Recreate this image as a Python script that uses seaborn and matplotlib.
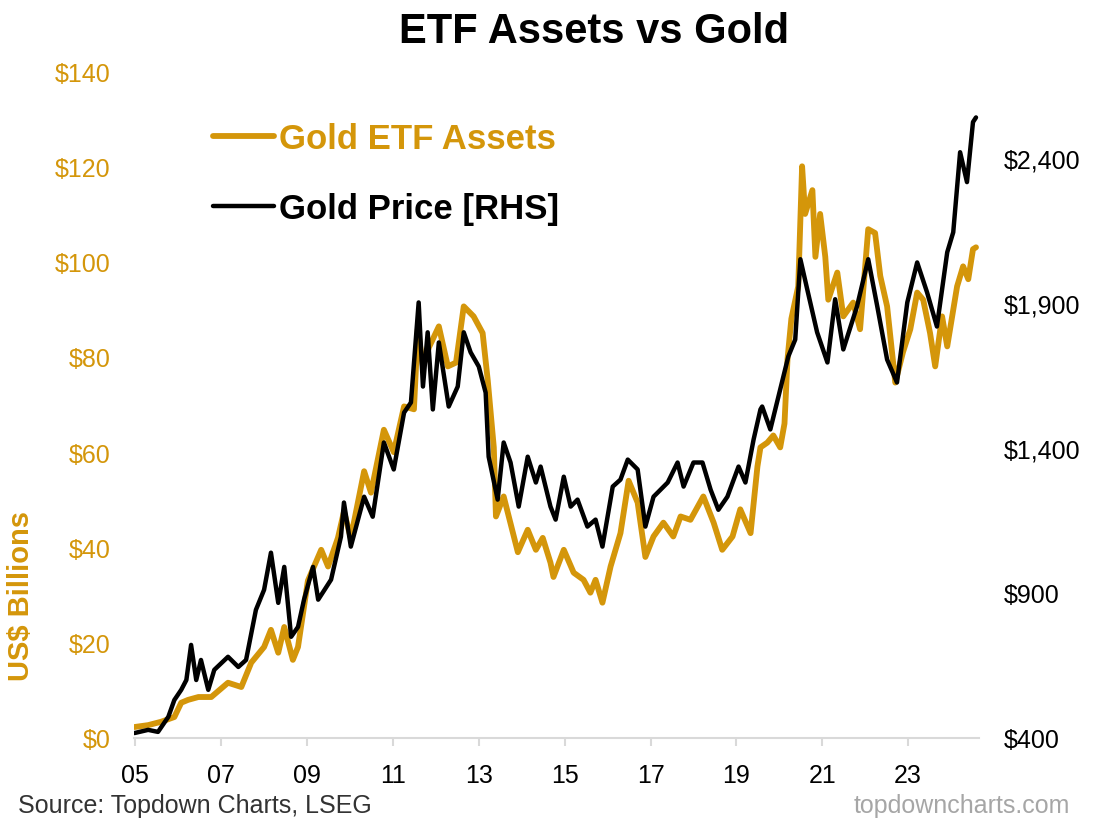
import pandas as pd
import seaborn as sns
import matplotlib.pyplot as plt

sns.set_style("white")
plt.rcParams['font.family'] = ['Liberation Sans', 'DejaVu Sans']

gold_col = "#D4960A"

# Gold ETF assets, US$ bn
etf_year = [2004.98, 2005.30, 2005.60, 2005.91, 2006.07, 2006.23, 2006.47, 2006.77,
            2007.16, 2007.47, 2007.70, 2008.00, 2008.16, 2008.33, 2008.47, 2008.67,
            2008.79, 2009.02, 2009.33, 2009.49, 2009.72, 2009.86, 2010.02, 2010.33,
            2010.49, 2010.79, 2011.02, 2011.26, 2011.49, 2011.58, 2011.70, 2011.84,
            2012.07, 2012.28, 2012.47, 2012.65, 2012.88, 2013.09, 2013.21, 2013.35,
            2013.40, 2013.58, 2013.91, 2014.14, 2014.33, 2014.49, 2014.67, 2014.74,
            2014.98, 2015.21, 2015.44, 2015.60, 2015.72, 2015.88, 2016.07, 2016.30,
            2016.49, 2016.70, 2016.88, 2017.07, 2017.30, 2017.53, 2017.70, 2017.93,
            2018.23, 2018.47, 2018.67, 2018.91, 2019.09, 2019.33, 2019.49, 2019.56,
            2019.72, 2019.86, 2020.02, 2020.12, 2020.19, 2020.28, 2020.44, 2020.53,
            2020.60, 2020.77, 2020.84, 2020.95, 2021.07, 2021.14, 2021.35, 2021.49,
            2021.72, 2021.88, 2022.07, 2022.23, 2022.35, 2022.51, 2022.70, 2022.88,
            2023.05, 2023.21, 2023.35, 2023.51, 2023.63, 2023.79, 2023.91, 2024.14,
            2024.28, 2024.40, 2024.51, 2024.58]
etf_assets = [2.3, 2.7, 3.4, 4.4, 7.4, 8.0, 8.6, 8.6,
              11.6, 10.7, 15.8, 19.1, 22.7, 17.9, 23.3, 16.4,
              19.1, 33.0, 39.5, 36.0, 42.0, 47.5, 42.0, 56.0,
              51.5, 64.7, 60.0, 69.6, 69.0, 85.8, 78.0, 82.0,
              86.4, 78.0, 78.8, 90.6, 88.5, 85.0, 75.0, 61.0,
              46.5, 50.7, 39.0, 43.7, 39.5, 42.0, 36.8, 33.8,
              39.5, 34.7, 33.2, 30.5, 33.2, 28.4, 36.0, 43.0,
              54.0, 49.4, 38.0, 42.3, 45.2, 42.3, 46.5, 45.8,
              50.7, 45.2, 39.5, 42.3, 48.0, 43.0, 57.0, 61.0,
              62.0, 63.5, 61.0, 66.0, 79.5, 88.0, 94.8, 120.0,
              110.0, 115.0, 101.0, 110.0, 101.0, 92.0, 97.7, 88.5,
              91.4, 85.8, 106.8, 106.0, 97.0, 90.6, 74.6, 81.0,
              85.8, 93.5, 92.0, 85.0, 78.0, 88.5, 82.2, 94.8,
              99.0, 96.3, 102.6, 103.0]

# Gold price, US$/oz
px_year = [2004.98, 2005.30, 2005.53, 2005.77, 2005.91, 2006.07, 2006.19, 2006.30,
           2006.42, 2006.53, 2006.70, 2006.84, 2007.16, 2007.40, 2007.58, 2007.81,
           2008.00, 2008.16, 2008.33, 2008.47, 2008.63, 2008.79, 2008.93, 2009.14,
           2009.26, 2009.56, 2009.79, 2009.86, 2010.02, 2010.33, 2010.53, 2010.79,
           2011.02, 2011.26, 2011.42, 2011.60, 2011.70, 2011.81, 2011.93, 2012.07,
           2012.30, 2012.51, 2012.65, 2012.81, 2013.00, 2013.16, 2013.23, 2013.44,
           2013.58, 2013.74, 2013.93, 2014.14, 2014.33, 2014.44, 2014.67, 2014.79,
           2014.98, 2015.14, 2015.30, 2015.53, 2015.72, 2015.88, 2016.12, 2016.30,
           2016.47, 2016.70, 2016.88, 2017.07, 2017.40, 2017.63, 2017.77, 2018.00,
           2018.21, 2018.40, 2018.58, 2018.79, 2019.05, 2019.21, 2019.40, 2019.56,
           2019.60, 2019.79, 2020.02, 2020.21, 2020.37, 2020.49, 2020.65, 2020.88,
           2021.12, 2021.30, 2021.49, 2021.81, 2022.07, 2022.28, 2022.51, 2022.74,
           2022.98, 2023.21, 2023.44, 2023.67, 2023.91, 2024.05, 2024.21, 2024.37,
           2024.51, 2024.58]
px_gold = [417, 428, 421, 473, 531, 566, 600, 721,
           600, 669, 566, 635, 680, 645, 669, 842,
           911, 1039, 866, 990, 749, 783, 877, 990,
           877, 946, 1094, 1212, 1060, 1232, 1163, 1419,
           1326, 1522, 1557, 1902, 1612, 1799, 1533, 1764,
           1543, 1612, 1799, 1730, 1681, 1591, 1370, 1222,
           1419, 1350, 1198, 1370, 1281, 1336, 1198, 1153,
           1301, 1198, 1222, 1129, 1153, 1060, 1267, 1291,
           1360, 1326, 1129, 1232, 1281, 1350, 1267, 1350,
           1350, 1256, 1187, 1232, 1336, 1281, 1429, 1533,
           1543, 1464, 1602, 1716, 1774, 2051, 1947, 1799,
           1695, 1913, 1740, 1889, 2051, 1889, 1705, 1626,
           1902, 2040, 1937, 1819, 2075, 2144, 2420, 2317,
           2524, 2540]

x_ticks = list(range(2005, 2024, 2))
left_ticks = list(range(0, 141, 20))
right_ticks = list(range(400, 2401, 500))

df_etf = pd.DataFrame({"Year": etf_year, "Assets": etf_assets})
df_px = pd.DataFrame({"Year": px_year, "Price": px_gold})

fig, ax = plt.subplots(figsize=(11, 8.28), dpi=100)
fig.subplots_adjust(left=0.1218, right=0.89, bottom=0.1075, top=0.913)
ax2 = ax.twinx()

sns.lineplot(data=df_etf, x="Year", y="Assets", ax=ax, color=gold_col, lw=4.2)
sns.lineplot(data=df_px, x="Year", y="Price", ax=ax2, color="black", lw=3.2)

ax.set_xlim(2004.97, 2024.65)
ax.set_ylim(0, 140)
ax2.set_ylim(400, 2700)

ax.set_xticks(x_ticks)
ax.set_xticklabels(["{:02d}".format(y % 100) for y in x_ticks])
ax.set_yticks(left_ticks)
ax.set_yticklabels(["${}".format(v) for v in left_ticks])
ax2.set_yticks(right_ticks)
ax2.set_yticklabels(["${:,}".format(v) for v in right_ticks])

for s in ["top", "left", "right"]:
    ax.spines[s].set_visible(False)
for s in ax2.spines:
    ax2.spines[s].set_visible(False)
ax.spines["bottom"].set_color("#d9d9d9")
ax.spines["bottom"].set_linewidth(1.5)

ax.tick_params(axis="x", bottom=True, length=6, width=1.5, color="#d9d9d9",
               pad=12, labelsize=18, labelcolor="black")
ax.tick_params(axis="y", left=False, length=0, pad=17, labelsize=18, labelcolor=gold_col)
ax2.tick_params(axis="y", right=False, length=0, pad=18, labelsize=18, labelcolor="black")

ax.set_xlabel(None)
ax.set_ylabel("US$ Billions", color=gold_col, fontsize=21, fontweight="bold")
ax.yaxis.set_label_coords(-0.117, 0.215)
ax2.set_ylabel(None)

fig.text(0.54, 0.961, "ETF Assets vs Gold", ha="center", va="center",
         fontsize=30, fontweight="bold", color="black")

ax2.legend(handles=[ax.lines[0], ax2.lines[0]],
           labels=["Gold ETF Assets", "Gold Price [RHS]"],
           loc="upper left", bbox_to_anchor=(213 / 1100, 1 - 123 / 828),
           bbox_transform=fig.transFigure, frameon=False,
           prop={"weight": "bold", "size": 25}, labelcolor="linecolor",
           handlelength=1.75, handletextpad=0.15, labelspacing=1.08,
           borderpad=0, borderaxespad=0)

fig.text(18 / 1100, 1 - 806 / 828, "Source: Topdown Charts, LSEG", ha="left",
         va="center", fontsize=18, color="#333333")
fig.text(1070 / 1100, 1 - 806 / 828, "topdowncharts.com", ha="right",
         va="center", fontsize=18, color="#a6a6a6")

plt.savefig("out.png", dpi=100)
